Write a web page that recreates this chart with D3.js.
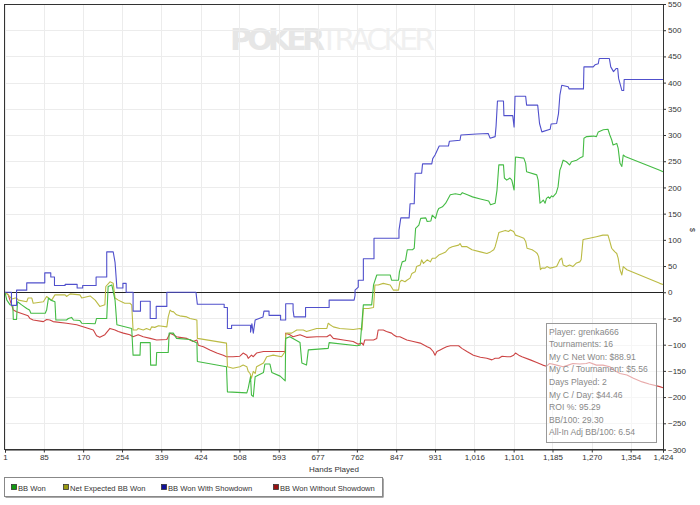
<!DOCTYPE html>
<html><head><meta charset="utf-8">
<script src="https://cdn.jsdelivr.net/npm/d3@7"></script>
<style>
html,body{margin:0;padding:0;background:#fff;}
svg{display:block;font-family:"Liberation Sans",Arial,sans-serif;}
</style></head>
<body><svg id="c" width="700" height="505"></svg>
<script>
// ---- data ----
const xTicks = [1,85,170,254,339,424,508,593,677,762,847,931,1016,1101,1185,1270,1354,1424];
const yTicks = [-300,-250,-200,-150,-100,-50,0,50,100,150,200,250,300,350,400,450,500,550];
const seriesNames = ["BB Won","Net Expected BB Won","BB Won With Showdown","BB Won Without Showdown"];
const infoLines = ["Player: grenka666","Tournaments: 16","My C Net Won: $88.91","My C / Tournament: $5.56","Days Played: 2","My C / Day: $44.46","ROI %: 95.29","BB/100: 29.30","All-In Adj BB/100: 6.54"];

const wonHands = [1,5,12,18,19,26,28,37,48,54,57,88,91,95,100,109,111,134,138,145,149,163,167,196,199,221,224,232,239,243,275,278,293,294,315,316,328,329,354,356,365,372,401,416,417,480,482,524,527,532,534,538,542,560,563,574,578,596,607,608,617,639,643,653,657,700,702,762,769,776,794,798,805,834,837,852,854,860,867,871,882,886,889,896,900,911,914,922,925,932,936,939,947,954,964,975,986,990,1001,1012,1029,1047,1051,1061,1065,1069,1079,1081,1086,1093,1097,1102,1105,1123,1127,1129,1151,1154,1158,1162,1165,1169,1172,1176,1179,1183,1186,1193,1197,1201,1204,1208,1215,1222,1226,1237,1244,1251,1253,1259,1273,1280,1284,1295,1305,1309,1313,1316,1324,1327,1331,1335,1338,1342,1417,1424];
const wonValues = [0,-15,-24,-26,-52,-52,-18,-24,-31,-34,-40,-40,-34,-11,-15,-18,-53,-53,-50,-48,-53,-54,-59,-60,-50,-50,11,14,-15,-62,-69,-120,-120,-96,-96,-139,-139,-115,-115,-78,-78,-88,-90,-97,-132,-142,-190,-192,-183,-161,-196,-199,-161,-153,-137,-137,-153,-160,-169,-88,-85,-96,-135,-139,-110,-107,-96,-102,-101,-24,-24,14,33,33,23,23,39,58,60,81,81,84,122,128,141,142,135,136,147,141,154,160,163,170,186,188,186,190,186,182,178,174,167,170,195,243,243,218,214,218,214,195,258,256,246,230,224,214,170,173,176,170,179,182,179,184,182,189,201,233,240,252,249,243,249,252,256,259,294,297,298,297,306,310,311,300,291,281,284,275,246,240,262,259,233,230];

const expHands = [1,8,16,23,26,30,48,51,59,62,84,91,95,102,109,131,134,142,163,167,185,196,206,217,219,228,235,239,246,253,260,271,275,278,286,289,300,307,315,318,325,333,351,354,358,362,365,372,379,394,401,416,417,480,482,494,509,516,524,527,531,534,538,542,545,560,567,581,599,607,608,610,621,632,646,653,675,697,700,704,711,725,754,769,773,776,787,798,801,808,819,834,841,852,855,859,866,870,877,881,888,891,899,902,906,914,921,925,932,939,947,954,961,968,982,985,989,1000,1011,1029,1043,1051,1058,1061,1065,1069,1076,1083,1090,1094,1101,1105,1112,1123,1127,1130,1141,1148,1152,1155,1159,1162,1169,1173,1180,1194,1201,1205,1208,1215,1222,1229,1237,1244,1247,1251,1254,1265,1280,1294,1305,1309,1313,1316,1320,1324,1327,1331,1335,1338,1346,1417,1424];
const expValues = [0,-5,-13,-11,-11,-15,-18,-11,-11,-21,-18,-8,-11,-15,-5,-5,-8,-3,-5,-11,-7,-15,-27,-24,11,20,17,-11,-15,-18,-21,-21,-24,-72,-72,-69,-72,-69,-72,-66,-67,-64,-66,-47,-34,-37,-37,-43,-45,-47,-50,-53,-88,-97,-142,-145,-142,-139,-142,-151,-155,-164,-151,-155,-142,-135,-123,-120,-123,-113,-81,-78,-78,-72,-72,-75,-69,-69,-59,-62,-66,-69,-71,-69,-72,-31,-31,-29,14,14,17,14,4,4,20,23,20,23,27,36,39,49,52,62,55,62,58,65,65,71,74,77,84,87,90,93,87,87,81,77,74,77,81,87,100,114,116,118,116,119,116,109,107,103,97,84,81,77,74,68,43,46,46,49,46,49,62,65,52,49,52,49,56,58,62,100,101,103,106,109,109,97,84,81,77,74,65,43,33,49,43,17,15];

const sdHands = [1,15,15,26,26,48,48,87,87,100,100,108,108,131,131,157,157,169,169,198,198,221,221,235,239,243,256,256,263,263,278,278,294,294,315,315,328,328,351,351,414,417,475,475,482,482,491,491,532,532,535,538,542,559,561,572,572,597,597,608,608,624,624,626,651,651,702,702,756,758,758,765,765,776,776,799,799,853,853,857,875,877,886,888,902,904,924,926,931,940,960,962,985,987,1021,1046,1050,1061,1063,1066,1079,1080,1099,1102,1104,1127,1129,1153,1157,1162,1180,1182,1194,1198,1201,1205,1219,1221,1252,1253,1273,1277,1284,1286,1308,1311,1317,1323,1326,1328,1335,1339,1340,1424];
const sdValues = [0,0,-25,-25,4,4,18,18,37,37,29,29,13,13,15,15,8,8,13,13,29,29,77,77,57,8,8,17,17,0,0,-36,-36,-17,-17,-50,-50,-27,-27,0,0,-23,-23,-29,-29,-69,-69,-63,-63,-76,-60,-78,-53,-47,-36,-36,-44,-44,-53,-53,-22,-22,-34,-47,-47,-29,-29,-15,-15,-6,4,10,23,23,64,64,103,103,118,142,142,169,169,227,227,245,245,255,262,279,279,288,290,300,302,303,294,297,317,365,365,337,337,315,374,374,357,357,322,306,311,321,322,341,376,395,392,388,388,430,430,434,436,446,446,430,421,427,427,408,385,385,406,406];

const nsdHands = [1,8,19,26,51,55,62,84,91,98,105,134,156,192,199,206,217,228,239,246,257,271,278,289,300,315,329,351,358,365,372,379,394,408,416,419,430,444,459,473,480,494,509,516,524,527,534,538,545,560,574,588,607,608,617,624,639,653,675,697,704,711,733,754,765,773,776,779,798,805,808,819,826,837,841,848,855,870,884,899,914,921,927,931,935,942,949,956,964,982,989,1000,1014,1029,1043,1054,1061,1069,1076,1087,1094,1101,1105,1112,1119,1137,1151,1164,1172,1179,1194,1208,1219,1229,1244,1258,1265,1280,1294,1309,1316,1331,1346,1360,1379,1394,1417,1424];
const nsdValues = [0,-5,-34,-37,-45,-50,-53,-56,-52,-53,-56,-59,-62,-72,-83,-86,-81,-69,-72,-75,-78,-81,-85,-81,-85,-88,-91,-90,-78,-81,-85,-86,-88,-94,-91,-101,-104,-110,-116,-120,-123,-123,-122,-116,-120,-126,-120,-123,-116,-113,-113,-113,-113,-78,-81,-85,-81,-86,-85,-85,-81,-88,-91,-94,-99,-97,-101,-91,-91,-88,-72,-72,-75,-78,-81,-85,-85,-91,-94,-97,-104,-107,-113,-120,-113,-110,-107,-104,-102,-102,-107,-113,-120,-124,-126,-129,-126,-126,-122,-123,-123,-120,-116,-120,-123,-129,-134,-139,-141,-136,-139,-142,-139,-136,-137,-136,-134,-139,-139,-142,-148,-155,-158,-164,-171,-175,-180,-182];

const lineColors = ["#44bb44","#bbbb44","#5050cc","#cc4444"];
const swatchColors = ["#119911","#999911","#111199","#991111"];

// ---- chart ----
const svg = d3.select("#c");
const L = 5, R = 663, T = 4, B = 449.5;
const x = d3.scaleLinear().domain([1,1424]).range([L,R]);
const y = d3.scaleLinear().domain([-300,550]).range([B,T]);

// watermark
const wm = svg.append("text").attr("x",230).attr("y",50).style("font-size","30px").style("font-family","'DejaVu Sans',sans-serif");
wm.append("tspan").text("POKER").attr("fill","#e6e6e6").style("font-weight","bold").attr("textLength",95);
wm.append("tspan").text("TRACKER").attr("fill","#f0f0f0").attr("textLength",115);

// grid
const g = svg.append("g");
g.selectAll("line.h").data(yTicks).join("line")
  .attr("x1",L).attr("x2",R).attr("y1",d=>Math.round(y(d))+0.5).attr("y2",d=>Math.round(y(d))+0.5)
  .attr("stroke","#ececec").attr("stroke-width",1);
g.selectAll("line.v").data(xTicks).join("line")
  .attr("y1",T).attr("y2",B).attr("x1",d=>Math.round(x(d))+0.5).attr("x2",d=>Math.round(x(d))+0.5)
  .attr("stroke","#ececec").attr("stroke-width",1);

// zero line
svg.append("line").attr("x1",L).attr("x2",R).attr("y1",Math.round(y(0))+0.5).attr("y2",Math.round(y(0))+0.5)
  .attr("stroke","#222").attr("stroke-width",1);

// series
const series = [
  {h:wonHands, v:wonValues},
  {h:expHands, v:expValues},
  {h:sdHands, v:sdValues},
  {h:nsdHands, v:nsdValues}
];
const line = d3.line().x(d=>x(d[0])).y(d=>y(d[1]));
const order = [3,1,0,2];
order.forEach(i=>{
  const s = series[i];
  const pts = s.h.map((h,k)=>[h,s.v[k]]);
  svg.append("path").datum(pts).attr("d",line).attr("fill","none")
    .attr("stroke",lineColors[i]).attr("stroke-width",1.1).attr("stroke-linejoin","round");
});

// frame
svg.append("rect").attr("x",L-0.5).attr("y",T+0.5).attr("width",R-L+1).attr("height",B-T-0.5)
  .attr("fill","none").attr("stroke","#333").attr("stroke-width",1);

// right axis
const ya = svg.append("g").attr("transform",`translate(${R},0)`)
  .call(d3.axisRight(y).tickValues(yTicks).tickSize(3).tickPadding(2).tickFormat(d3.format("d")));
ya.select(".domain").attr("stroke","#333");
ya.selectAll(".tick line").attr("stroke","#333");
ya.selectAll("text").attr("fill","#333").style("font-size","8px").style("font-family","'Liberation Sans',Arial,sans-serif");
svg.append("text").attr("transform","translate(690,230) rotate(90)").attr("text-anchor","middle")
  .style("font-size","7px").attr("fill","#333").text("$");

// bottom axis
const xa = svg.append("g").attr("transform",`translate(0,${B})`)
  .call(d3.axisBottom(x).tickValues(xTicks).tickSize(3).tickPadding(2).tickFormat(d3.format(",")));
xa.select(".domain").attr("stroke","#333");
xa.selectAll(".tick line").attr("stroke","#333");
xa.selectAll("text").attr("fill","#333").style("font-size","8px").style("font-family","'Liberation Sans',Arial,sans-serif");
svg.append("text").attr("x",(L+R)/2).attr("y",472).attr("text-anchor","middle")
  .style("font-size","8px").attr("fill","#333").text("Hands Played");

// info box
const ib = svg.append("g");
ib.append("rect").attr("x",546.5).attr("y",323.5).attr("width",110).attr("height",119)
  .attr("fill","#fff").attr("fill-opacity",0.55).attr("stroke","#999");
ib.selectAll("text").data(infoLines).join("text")
  .attr("x",549).attr("y",(d,i)=>334.5+i*12.6).style("font-size","8.6px").attr("fill","#888").text(d=>d);

// legend
const lg = svg.append("g");
lg.append("rect").attr("x",5.5).attr("y",478.5).attr("width",378).attr("height",19).attr("fill","#555");
lg.append("rect").attr("x",4.5).attr("y",477.5).attr("width",378).attr("height",19).attr("fill","#fff").attr("stroke","#888");
const legX = [11,63,161,273];
seriesNames.forEach((n,i)=>{
  lg.append("rect").attr("x",legX[i]+0.5).attr("y",484.5).attr("width",5).attr("height",5)
    .attr("fill",swatchColors[i]).attr("stroke","#333").attr("stroke-width",0.8);
  lg.append("text").attr("x",legX[i]+7).attr("y",490.5).style("font-size","7.6px").attr("fill","#333").text(n);
});
</script></body></html>
